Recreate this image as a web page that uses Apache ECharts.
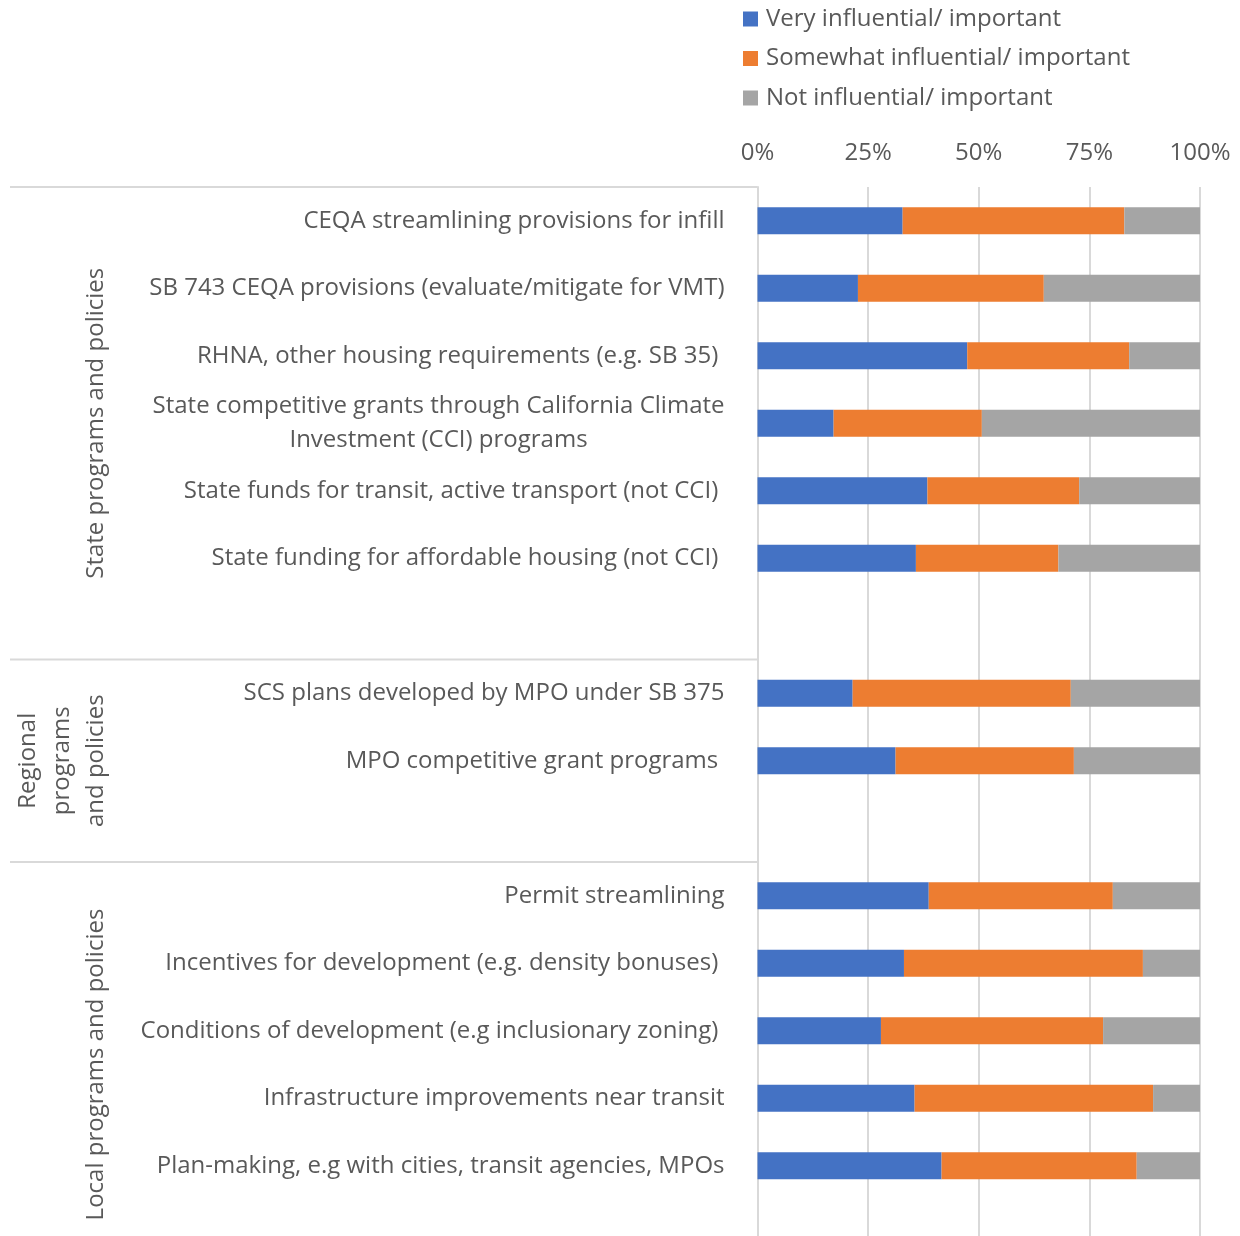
<!DOCTYPE html>
<html>
<head>
<meta charset="utf-8">
<script src="https://cdn.jsdelivr.net/npm/echarts@6/dist/echarts.min.js"></script>
<style>
  html, body { margin: 0; padding: 0; background: #fff; }
  #chart { width: 1240px; height: 1236px; }
</style>
</head>
<body>
<div id="chart"></div>
<script>
// Programs and policies, top to bottom; blank entries are spacer rows between groups
const categories = [
  'CEQA streamlining provisions for infill',
  'SB 743 CEQA provisions (evaluate/mitigate for VMT)',
  'RHNA, other housing requirements (e.g. SB 35) ',
  'State competitive grants through California Climate\nInvestment (CCI) programs',
  'State funds for transit, active transport (not CCI) ',
  'State funding for affordable housing (not CCI) ',
  ' ',
  'SCS plans developed by MPO under SB 375',
  'MPO competitive grant programs ',
  '  ',
  'Permit streamlining',
  'Incentives for development (e.g. density bonuses) ',
  'Conditions of development (e.g inclusionary zoning) ',
  'Infrastructure improvements near transit',
  'Plan-making, e.g with cities, transit agencies, MPOs',
  '   '
];

// Share of respondents (%) per rating
const veryInfluential     = [32.8, 22.7, 47.4, 17.2, 38.4, 35.8, null, 21.5, 31.2, null, 38.7, 33.1, 27.9, 35.5, 41.6, null];
const somewhatInfluential = [50.1, 42.0, 36.6, 33.5, 34.3, 32.2, null, 49.3, 40.3, null, 41.6, 54.0, 50.2, 53.9, 44.1, null];
const notInfluential      = [17.1, 35.3, 16.0, 49.3, 27.3, 32.0, null, 29.2, 28.5, null, 19.7, 12.9, 21.9, 10.6, 14.3, null];

const seriesNames = ['Very influential/ important', 'Somewhat influential/ important', 'Not influential/ important'];
const tickValues = [0, 25, 50, 75, 100];

// Outer category groups: label, first row index, row index after last
const groupNames = ['State programs and policies', 'Regional\nprograms\nand policies', 'Local programs and policies'];
const groupStarts = [0, 7, 10];
const groupEnds = [7, 10, 16];

const FONT = '"Open Sans", Lato, sans-serif';
const FS = 24;
const TEXT = '#595959';
const GRID = '#D9D9D9';
const COLORS = ['#4472C4', '#ED7D31', '#A5A5A5'];

const chart = echarts.init(document.getElementById('chart'), null, { renderer: 'canvas' });

function labelFormatter(value) {
  if (value.indexOf('\n') < 0) return value;
  return value.split('\n').map(function (line) { return '{c|' + line + '}'; }).join('\n');
}

const mk = function (name, data, idx) {
  return {
    name: name,
    type: 'bar',
    stack: 'total',
    barWidth: 27,
    data: data,
    itemStyle: { color: COLORS[idx] },
    emphasis: { disabled: true },
    animation: false
  };
};

chart.setOption({
  animation: false,
  textStyle: { fontFamily: FONT },
  color: COLORS,
  legend: {
    orient: 'vertical',
    left: 738,
    top: 1,
    icon: 'rect',
    itemWidth: 15,
    itemHeight: 15,
    itemGap: 13.5,
    textStyle: { fontFamily: FONT, fontSize: FS, color: TEXT, lineHeight: 26, padding: [0, 0, 0, 3] },
    data: seriesNames,
    selectedMode: false
  },
  grid: {
    left: 757.5,
    right: 40,
    top: 187,
    height: 1080,
    containLabel: false,
    outerBoundsMode: 'none'
  },
  xAxis: {
    type: 'value',
    position: 'top',
    min: tickValues[0],
    max: tickValues[tickValues.length - 1],
    interval: 25,
    axisLine: { show: false },
    axisTick: { show: false },
    splitLine: { show: true, lineStyle: { color: GRID, width: 2 } },
    axisLabel: {
      formatter: '{value}%',
      fontFamily: FONT,
      fontSize: FS,
      color: TEXT,
      margin: 22
    }
  },
  yAxis: {
    type: 'category',
    inverse: true,
    data: categories,
    axisLine: { show: true, lineStyle: { color: GRID, width: 2 } },
    axisTick: { show: false },
    splitLine: { show: false },
    axisLabel: {
      interval: 0,
      margin: 33,
      fontFamily: FONT,
      fontSize: FS,
      color: TEXT,
      lineHeight: 34,
      formatter: labelFormatter,
      rich: {
        c: { align: 'center', fontFamily: FONT, fontSize: FS, color: TEXT, lineHeight: 34 }
      }
    }
  },
  series: [
    mk(seriesNames[0], veryInfluential, 0),
    mk(seriesNames[1], somewhatInfluential, 1),
    mk(seriesNames[2], notInfluential, 2)
  ]
});

// Group separators and rotated group titles, placed from the category scale
function drawGroups() {
  const p0 = chart.convertToPixel({ yAxisIndex: 0 }, 0);
  const p1 = chart.convertToPixel({ yAxisIndex: 0 }, 1);
  const half = (p1 - p0) / 2;
  const axisX = chart.convertToPixel({ xAxisIndex: 0 }, 0);
  const elements = [];
  for (let i = 0; i < groupNames.length; i++) {
    const top = chart.convertToPixel({ yAxisIndex: 0 }, groupStarts[i]) - half;
    const bottom = chart.convertToPixel({ yAxisIndex: 0 }, groupEnds[i] - 1) + half;
    elements.push({
      type: 'line',
      silent: true,
      shape: { x1: 10, y1: top, x2: axisX, y2: top },
      style: { stroke: GRID, lineWidth: 2 }
    });
    elements.push({
      type: 'text',
      silent: true,
      x: 113,
      y: (top + bottom) / 2,
      rotation: Math.PI / 2,
      style: {
        text: groupNames[i],
        font: FS + 'px ' + FONT,
        fill: TEXT,
        align: 'center',
        verticalAlign: 'bottom',
        textAlign: 'center',
        textVerticalAlign: 'bottom',
        lineHeight: 34
      }
    });
  }
  chart.setOption({ graphic: elements });
}
drawGroups();
</script>
</body>
</html>
